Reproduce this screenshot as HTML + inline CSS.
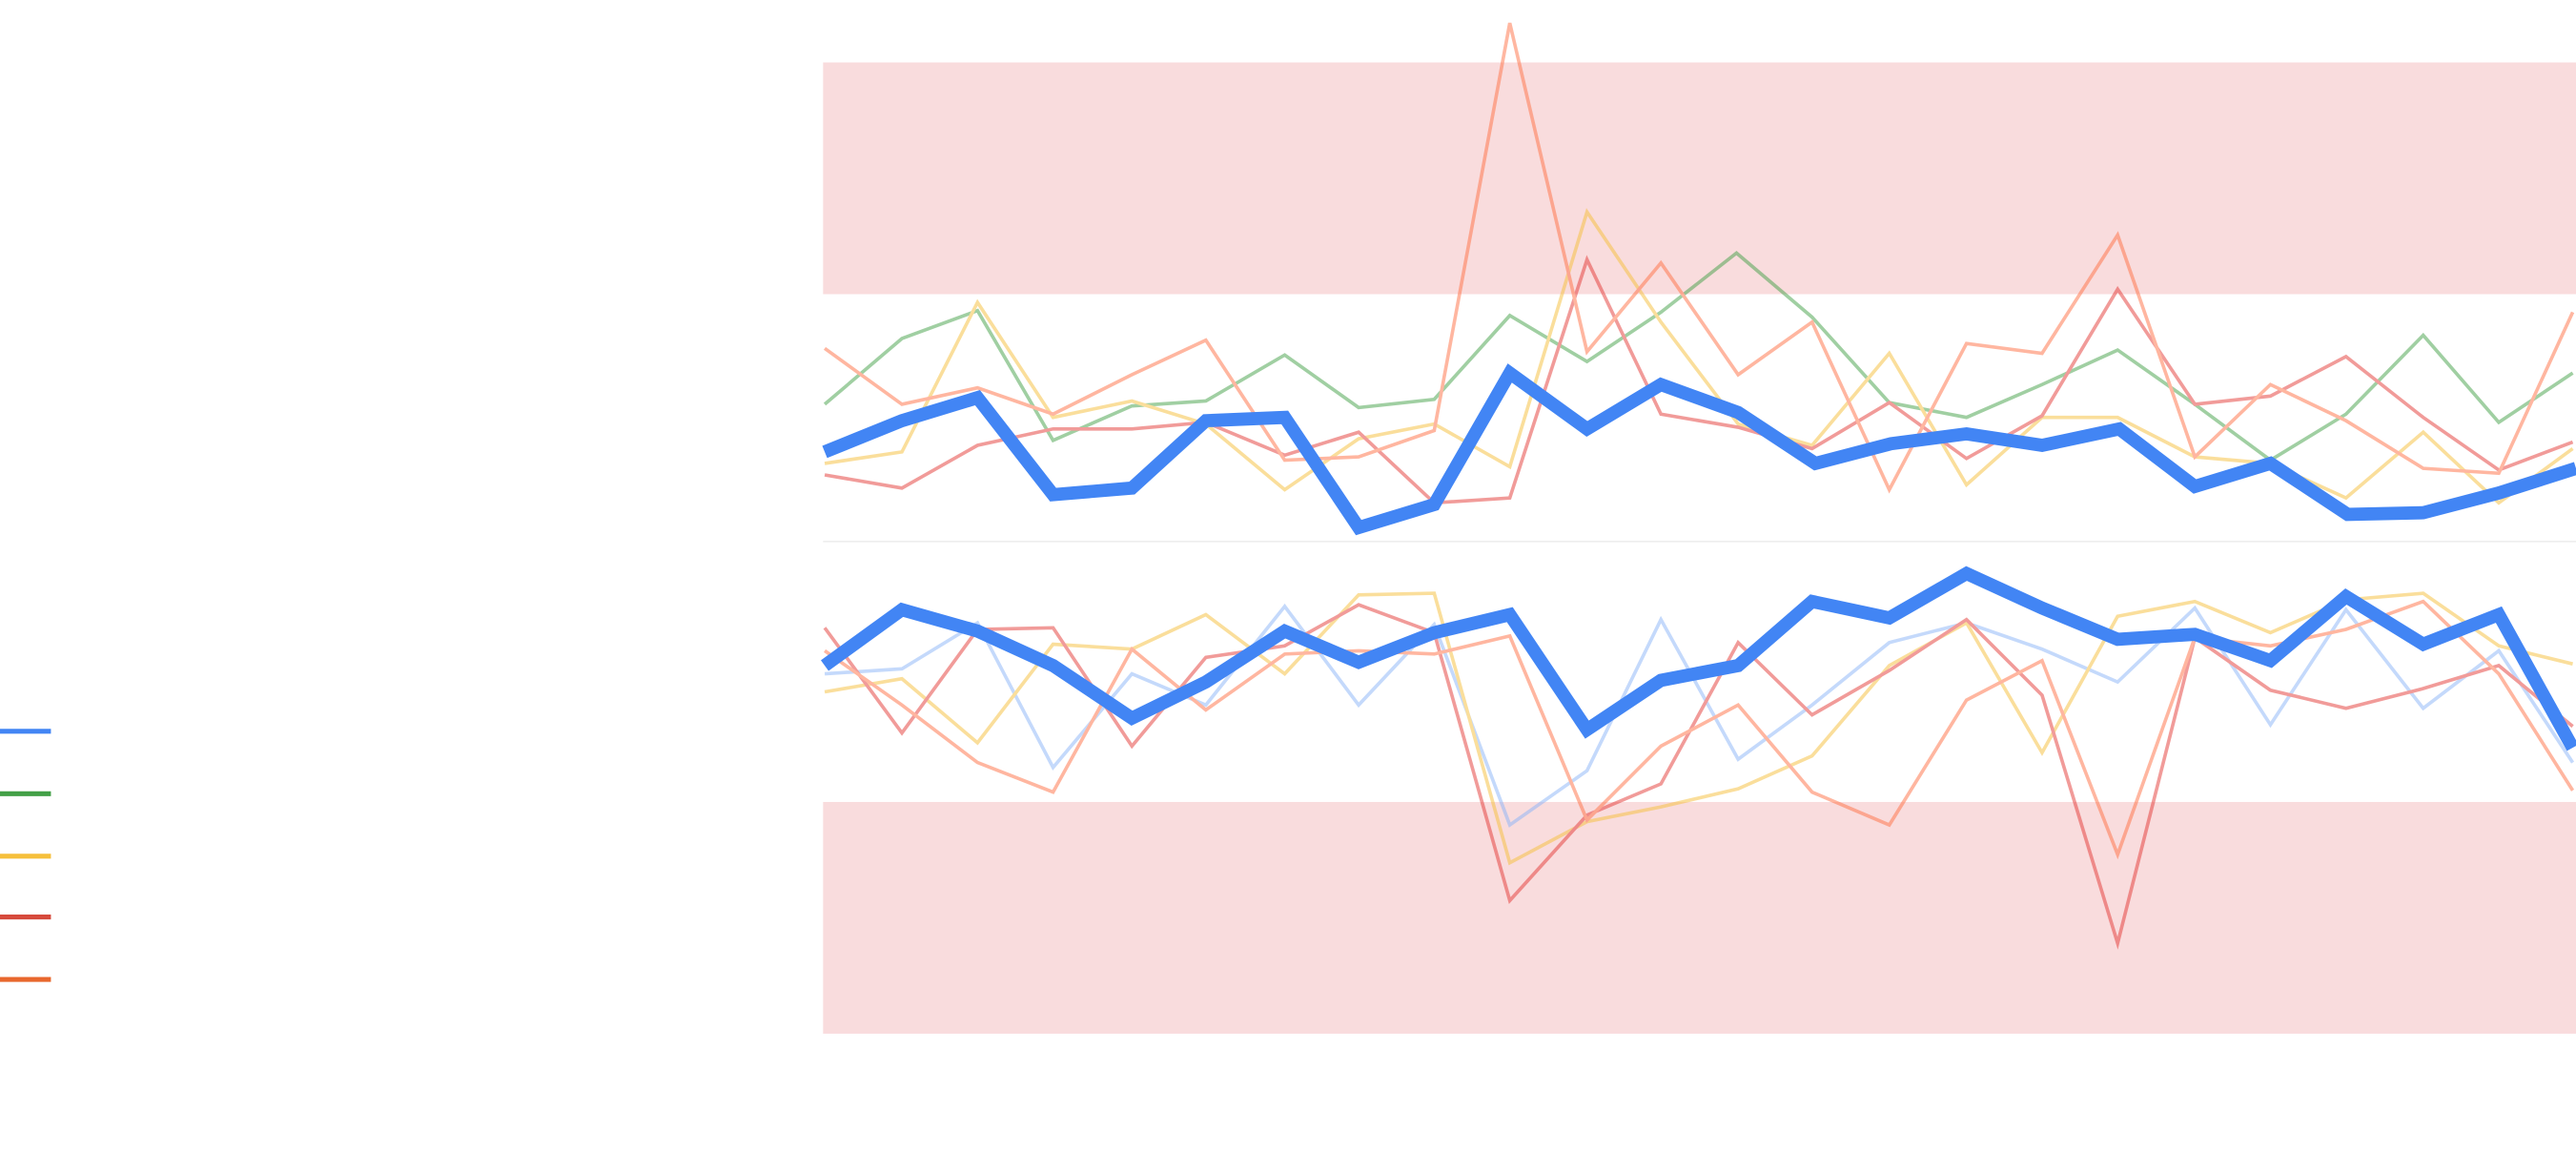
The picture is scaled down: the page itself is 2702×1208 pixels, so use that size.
<!DOCTYPE html>
<html><head><meta charset="utf-8"><style>html,body{margin:0;padding:0;background:#fff;overflow:hidden}svg{display:block}</style></head>
<body>
<svg width="2702" height="1208" viewBox="0 0 1568 701" preserveAspectRatio="none" xmlns="http://www.w3.org/2000/svg">
<rect x="501" y="38" width="1067" height="141" fill="#f9dcdd"/>
<rect x="501" y="488" width="1067" height="141" fill="#f9dcdd"/>
<line x1="501" y1="329.5" x2="1568" y2="329.5" stroke="#eeeeee" stroke-width="1"/>
<g fill="none" stroke-width="2.1" stroke-linejoin="miter" opacity="0.5">
<polyline stroke="#43a047" points="502,246 549,206 595,189 641,268 689,247 734,244 782,216 827,248 873,243 919,192 966,220 1011,190 1057,154 1103,193 1150,245 1197,254 1243,234 1289,213 1336,246 1382,280 1428,252 1475,204 1521,257 1566,227"/>
<polyline stroke="#f6bf3a" points="502,282 549,275 595,184 641,254 689,244 734,258 782,298 827,267 873,258 919,284 966,129 1011,196 1058,258 1103,271 1150,215 1197,295 1243,254 1289,254 1336,278 1382,282 1428,303 1475,263 1521,306 1566,273"/>
<polyline stroke="#e53935" points="502,289 549,297 595,271 641,261 689,261 734,257 782,277 827,263 873,306 919,303 966,158 1011,252 1058,260 1103,273 1150,245 1197,279 1243,253 1289,176 1336,246 1382,241 1428,217 1475,254 1521,286 1566,269"/>
<polyline stroke="#ff7043" points="502,212 549,246 595,236 641,252 689,228 734,207 782,280 827,278 873,262 919,14 966,214 1011,160 1058,228 1103,196 1150,298 1197,209 1243,215 1289,143 1336,278 1382,234 1428,256 1475,285 1521,288 1566,190"/>
<polyline stroke="#8ab4f8" points="502,410 549,407 595,379 641,467 689,410 734,429 782,369 827,429 873,380 919,502 966,469 1011,377 1058,462 1103,429 1150,391 1197,379 1243,395 1289,415 1336,370 1382,441 1428,371 1475,431 1521,396 1566,464"/>
<polyline stroke="#f6bf3a" points="502,421 549,413 595,452 641,392 689,395 734,374 782,410 827,362 873,361 919,525 966,500 1011,491 1058,480 1103,460 1150,405 1197,379 1243,458 1289,375 1336,366 1382,385 1428,365 1475,361 1521,393 1566,404"/>
<polyline stroke="#e53935" points="502,382 549,446 595,383 641,382 689,454 734,400 782,393 827,368 873,385 919,548 966,496 1011,477 1058,391 1103,435 1150,408 1197,377 1243,423 1289,574 1336,388 1382,420 1428,431 1475,419 1521,405 1566,442"/>
<polyline stroke="#ff7043" points="502,396 549,429 595,464 641,482 689,395 734,432 782,398 827,396 873,398 919,387 966,499 1011,454 1058,429 1103,482 1150,502 1197,426 1243,402 1289,520 1336,388 1382,393 1428,383 1475,366 1521,410 1566,481"/>
</g>
<g fill="none" stroke="#4285f4" stroke-width="8" stroke-linejoin="miter">
<polyline points="502,275 549,256 595,242 641,301 689,297 734,256 782,254 827,321 873,307 919,227 966,261 1011,234 1058,251 1105,282 1151,270 1197,264 1243,271 1290,261 1336,296 1382,282 1429,313 1475,312 1521,300 1568,285"/>
<polyline points="502,405 549,371 595,384 641,405 689,437 734,415 782,384 827,403 873,385 919,374 966,444 1011,414 1058,405 1103,366 1150,376 1197,349 1243,370 1289,389 1336,386 1382,402 1428,363 1475,392 1521,374 1566,455"/>
</g>
<g stroke-width="3">
<line x1="0" y1="445" x2="31" y2="445" stroke="#4285f4"/>
<line x1="0" y1="483" x2="31" y2="483" stroke="#43a047"/>
<line x1="0" y1="521" x2="31" y2="521" stroke="#f6bf3a"/>
<line x1="0" y1="558" x2="31" y2="558" stroke="#d64a3c"/>
<line x1="0" y1="596" x2="31" y2="596" stroke="#e8672d"/>
</g>
</svg>
</body></html>
